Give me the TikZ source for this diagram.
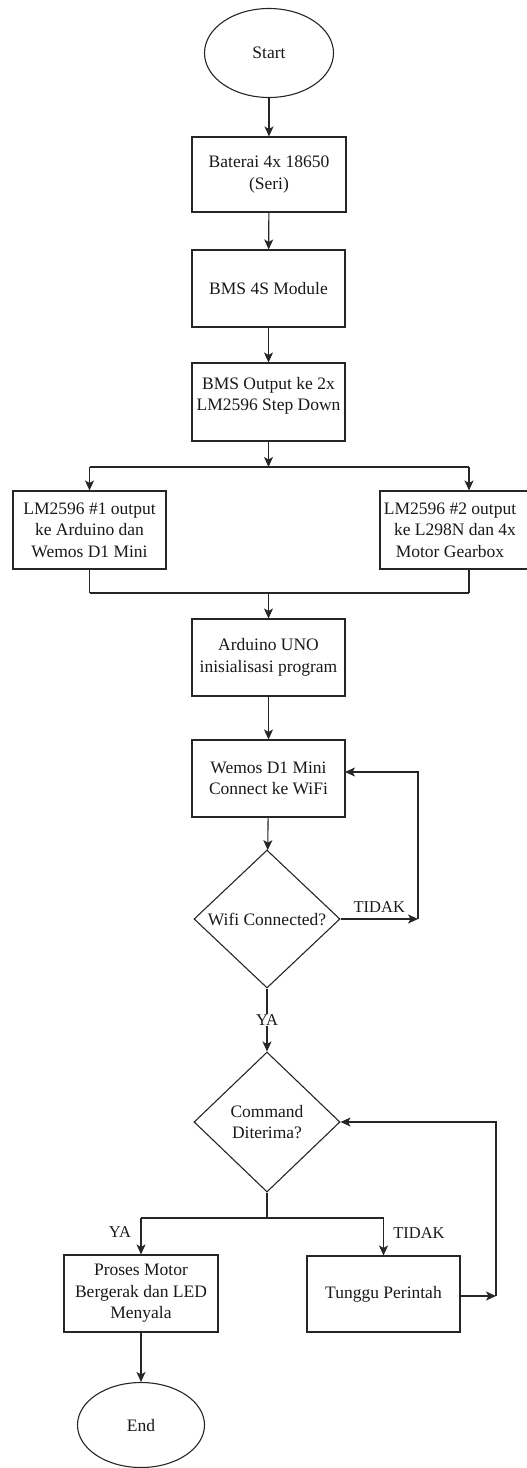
\documentclass[tikz,border=0pt]{standalone}
\usepackage{fontspec}
\setmainfont{Liberation Serif}
\usetikzlibrary{shapes.geometric,arrows.meta}
\begin{document}
\begin{tikzpicture}[x=1pt,y=-1pt,
  every node/.style={font=\fontsize{17.5}{21.5}\selectfont, text=black!90},
  proc/.style={draw=black!85, rectangle, line width=1.1pt, minimum width=153pt, minimum height=77pt, align=center, inner sep=0pt},
  term/.style={draw=black!85, ellipse, line width=1.1pt, inner sep=0pt, align=center},
  decis/.style={draw=black!85, diamond, line width=1.1pt, inner sep=0pt, minimum width=146pt, minimum height=138pt, align=center},
  conn/.style={line width=1.1pt, draw=black!85},
  arr/.style={conn, -{Stealth[length=10pt,width=9pt,inset=2.5pt]}},
  lbl/.style={font=\fontsize{16.5}{20}\selectfont}
]
\useasboundingbox (0,0) rectangle (527,1468);
\clip (0,0) rectangle (527,1468);

\node[term, minimum width=129pt, minimum height=89pt] (start) at (269,53) {Start};
\node[proc, minimum width=154pt, minimum height=75pt] (bat) at (269,174.5) {Baterai 4x 18650\\(Seri)};
\node[proc] (bms) at (268.5,288.5) {BMS 4S Module};
\node[proc, minimum height=78pt] (bmsout) at (268.5,402) {BMS Output ke 2x\\LM2596 Step Down\\[-5pt]\mbox{}};
\node[proc, minimum height=78pt] (l1) at (89.5,530) {LM2596 \#1 output\\ke Arduino dan\\Wemos D1 Mini};
\node[proc, minimum width=150pt, minimum height=78pt] (l2) at (455,530) {LM2596 \#2 output\hspace*{10pt}\\ke L298N dan 4x\hspace*{10pt}\\Motor Gearbox\hspace*{10pt}};
\node[proc] (ard) at (268.5,657.5) {Arduino UNO\\inisialisasi program};
\node[proc] (wem) at (268.5,778.5) {Wemos D1 Mini\\Connect ke WiFi};
\node[decis] (d1) at (267,919) {Wifi Connected?};
\node[decis, minimum height=140pt] (d2) at (267,1122) {Command\\Diterima?};
\node[proc, minimum width=154pt] (p) at (141,1293.5) {Proses Motor\\Bergerak dan LED\\Menyala};
\node[proc, minimum height=76pt] (tg) at (383.5,1294) {Tunggu Perintah};
\node[term, minimum width=127pt, minimum height=85pt] (end) at (141,1425) {End};

\coordinate (split) at (268.5,467);
\coordinate (splitL) at (89.5,467);
\coordinate (splitR) at (469,467);
\coordinate (mergeL) at (89.5,593);
\coordinate (mergeR) at (469,593);
\coordinate (merge) at (268.5,593);
\coordinate (loopA) at (418,919);
\coordinate (loopB) at (418,772);
\coordinate (loopBend) at (345,772);
\coordinate (split2) at (267,1218);
\coordinate (split2L) at (141,1218);
\coordinate (split2R) at (383.5,1218);
\coordinate (loopC) at (496,1296);
\coordinate (loopD) at (496,1122);

\draw[arr] (start) -- (bat);
\draw[arr] (bat) -- (bms);
\draw[arr] (bms) -- (bmsout);
\draw[arr] (bmsout) -- (split);
\draw[conn] (splitL) -- (splitR);
\draw[arr] (splitL) -- (l1);
\draw[arr] (splitR) -- (splitR |- l2.north);
\draw[conn] (l1) -- (mergeL);
\draw[conn] (mergeR |- l2.south) -- (mergeR);
\draw[conn] (mergeL) -- (mergeR);
\draw[arr] (merge) -- (ard);
\draw[arr] (ard) -- (wem);
\draw[arr] (wem) -- (d1);
\draw[arr] (d1.east) -- node[lbl, above=3pt, pos=0.5] (tidak1) {TIDAK} (loopA);
\draw[arr] (loopA) -- (loopB) -- (loopBend);
\draw[arr] (d1.south) -- node[lbl, fill=white, inner sep=1pt] (ya1) {YA} (d2.north);
\draw[conn] (d2.south) -- (split2);
\draw[conn] (split2L) -- (split2R);
\draw[arr] (split2L) -- (p);
\draw[arr] (split2R) -- (tg);
\node[lbl] (ya2) at (120,1232) {YA};
\node[lbl] (tidak2) at (419,1233) {TIDAK};
\draw[arr] (tg.east |- loopC) -- (loopC);
\draw[arr] (loopC) -- (loopD) -- (d2.east);
\draw[arr] (p) -- (end);
\end{tikzpicture}
\end{document}
